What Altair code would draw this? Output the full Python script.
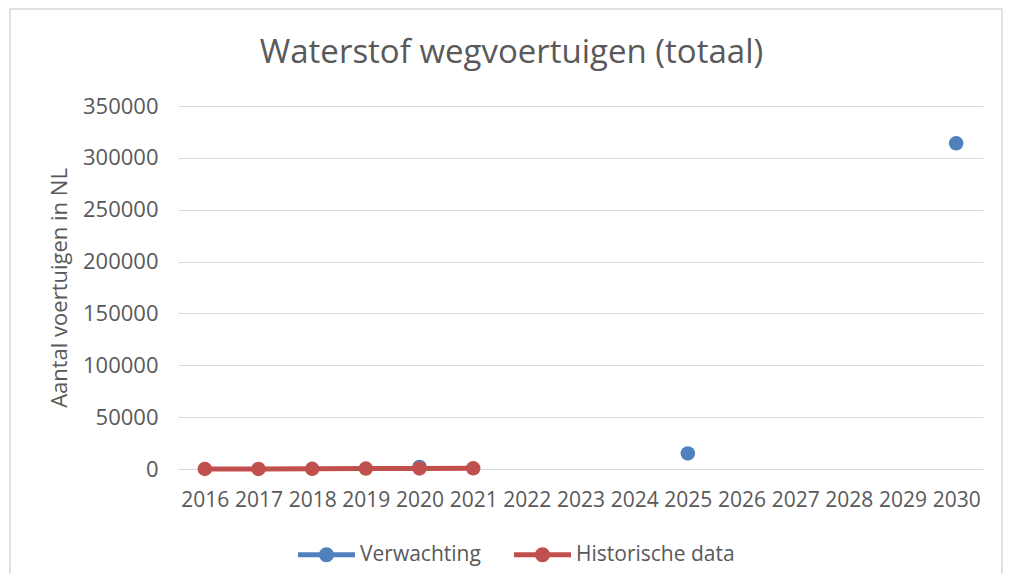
import altair as alt
import pandas as pd

years = [str(y) for y in range(2016, 2031)]
verwachting = [None, None, None, None, 2000, None, None, None, None, 15000, None, None, None, None, 314000]
historisch = [50, 100, 200, 400, 500, 700, None, None, None, None, None, None, None, None, None]
series_names = ["Verwachting", "Historische data"]
series_colors = ["#4F81BD", "#C0504D"]
y_ticks = [0, 50000, 100000, 150000, 200000, 250000, 300000, 350000]

rows = []
for name, vals in zip(series_names, [verwachting, historisch]):
    for yr, v in zip(years, vals):
        if v is not None:
            rows.append({"series": name, "year": yr, "value": v})
df = pd.DataFrame(rows)

FONT = "Open Sans"
GREY = "#595959"

x_enc = alt.X("year:O", scale=alt.Scale(domain=years, type="point", padding=0.5),
              axis=alt.Axis(title=None, labelAngle=0))
y_enc = alt.Y("value:Q", scale=alt.Scale(domain=[0, 350000], nice=False),
              axis=alt.Axis(title="Aantal voertuigen in NL", values=y_ticks, format="d",
                            titleX=-112, titleY=181.5, titleAngle=270,
                            titleAlign="center", titleBaseline="alphabetic",
                            labelFontSize=22, titleFontSize=22))

legend_path = ("M-1,-0.088 H1 V0.088 H-1 Z "
               "M-0.263,0 A0.263,0.263 0 1,1 0.263,0 A0.263,0.263 0 1,1 -0.263,0 Z")

color_enc = alt.Color("series:N",
                      scale=alt.Scale(domain=series_names, range=series_colors),
                      legend=alt.Legend(title=None, orient="none", direction="horizontal",
                                        legendX=120, legendY=420,
                                        symbolType=legend_path, symbolSize=3249,
                                        symbolStrokeWidth=0, symbolOpacity=1,
                                        labelFont=FONT, labelFontSize=21, labelColor=GREY,
                                        labelOffset=5, columnPadding=33, padding=0))

base = alt.Chart(df)

frame = alt.Chart(pd.DataFrame({"f": [0]})).mark_rect(
    fillOpacity=0, stroke="#D9D9D9", strokeWidth=1.5).encode(
    x=alt.value(-168), x2=alt.value(824), y=alt.value(-97), y2=alt.value(600))

blue_pts = base.transform_filter(alt.datum.series == "Verwachting").mark_point(
    filled=True, size=210, opacity=1).encode(x=x_enc, y=y_enc, color=color_enc)
red_line = base.transform_filter(alt.datum.series == "Historische data").mark_line(
    strokeWidth=5, color="#C0504D").encode(x=x_enc, y=y_enc)
red_pts = base.transform_filter(alt.datum.series == "Historische data").mark_point(
    filled=True, size=210, opacity=1).encode(x=x_enc, y=y_enc, color=color_enc)

chart = alt.layer(frame, blue_pts, red_line, red_pts).properties(
    width=805, height=363,
    title=alt.TitleParams("Waterstof wegvoertuigen (totaal)", font=FONT, fontSize=33,
                          fontWeight="normal", color=GREY, anchor="middle", dx=-69,
                          baseline="alphabetic", offset=0, dy=88),
    padding={"left": 170, "top": 98, "right": 20, "bottom": 105},
    autosize=alt.AutoSizeParams(type="none"),
).configure(background="white").configure_view(stroke=None).configure_axis(
    labelFont=FONT, labelFontSize=21, labelColor=GREY,
    titleFont=FONT, titleFontSize=21, titleColor=GREY, titleFontWeight="normal",
    ticks=False, gridColor="#D9D9D9", gridWidth=1,
).configure_axisX(
    grid=False, domain=True, domainColor="#D9D9D9", domainWidth=1, labelPadding=20,
).configure_axisY(
    grid=True, domain=False, labelPadding=20,
)

chart.save("out.html", embed_options={"renderer": "svg", "actions": False})
